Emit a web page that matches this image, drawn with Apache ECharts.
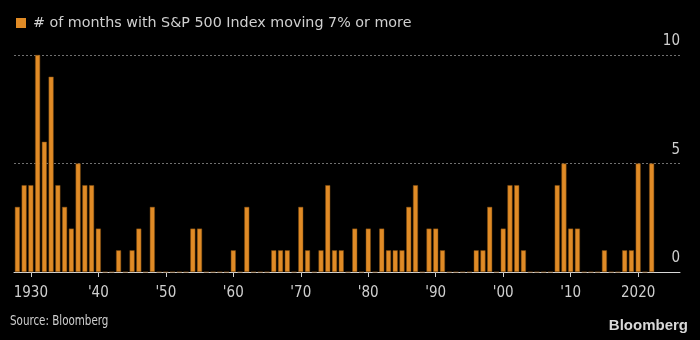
<!DOCTYPE html>
<html>
<head>
<meta charset="utf-8">
<script src="https://cdn.jsdelivr.net/npm/echarts@6/dist/echarts.min.js"></script>
<style>
html,body{margin:0;padding:0;background:#000;}
#c{width:700px;height:340px;}
</style>
</head>
<body>
<div id="c"></div>
<script>
const years = [1928,1929,1930,1931,1932,1933,1934,1935,1936,1937,1938,1939,
1940,1941,1942,1943,1944,1945,1946,1947,1948,1949,
1950,1951,1952,1953,1954,1955,1956,1957,1958,1959,
1960,1961,1962,1963,1964,1965,1966,1967,1968,1969,
1970,1971,1972,1973,1974,1975,1976,1977,1978,1979,
1980,1981,1982,1983,1984,1985,1986,1987,1988,1989,
1990,1991,1992,1993,1994,1995,1996,1997,1998,1999,
2000,2001,2002,2003,2004,2005,2006,2007,2008,2009,
2010,2011,2012,2013,2014,2015,2016,2017,2018,2019,
2020,2021,2022];
const months = [3,4,4,10,6,9,4,3,2,5,4,4,
2,0,0,1,0,1,2,0,3,0,
0,0,0,0,2,2,0,0,0,0,
1,0,3,0,0,0,1,1,1,0,
3,1,0,1,4,1,1,0,2,0,
2,0,2,1,1,1,3,4,0,2,
2,1,0,0,0,0,1,1,3,0,
2,4,4,1,0,0,0,0,4,5,
2,2,0,0,0,1,0,0,1,1,
5,0,5];
const xTickValues = [1930,1940,1950,1960,1970,1980,1990,2000,2010,2020];
const xTickLabels = ['1930',"'40","'50","'60","'70","'80","'90","'00","'10",'2020'];
const seriesName = '# of months with S&P 500 Index moving 7% or more';

const chart = echarts.init(document.getElementById('c'));
const tickFont = '"DejaVu Sans Condensed", "DejaVu Sans", sans-serif';
chart.setOption({
  backgroundColor: '#000',
  animation: false,
  legend: {
    left: 11, top: 11,
    icon: 'rect', itemWidth: 10, itemHeight: 10, itemGap: 8,
    itemStyle: { borderWidth: 0, color: '#E08B26' },
    textStyle: { color: '#d0d0d0', fontSize: 14.3, fontFamily: '"DejaVu Sans", sans-serif', padding: [0,0,0,2] },
    data: [seriesName]
  },
  grid: { left: 14, right: 20, top: 55, bottom: 68, containLabel: false },
  xAxis: {
    type: 'value', min: 1927.5, max: 2026.2,
    splitLine: { show: false },
    axisLine: { show: true, onZero: false, lineStyle: { color: '#d8d8d8', width: 1 } },
    axisTick: { show: true, length: 5, lineStyle: { color: '#cfcfcf' }, customValues: xTickValues },
    axisLabel: {
      color: '#cfcfcf', fontSize: 15, fontFamily: tickFont, margin: 14,
      customValues: xTickValues,
      formatter: function (v) { const i = xTickValues.indexOf(Math.round(v)); return i >= 0 ? xTickLabels[i] : ''; }
    }
  },
  yAxis: {
    type: 'value', position: 'right', min: 0, max: 10, interval: 5,
    axisLine: { show: false }, axisTick: { show: false },
    splitLine: { show: true, lineStyle: { color: '#707070', type: [2, 2], width: 1 } },
    axisLabel: {
      inside: true, margin: 0, color: '#cfcfcf', fontSize: 15, fontFamily: tickFont,
      verticalAlign: 'bottom', padding: [0, 0, 6, 0]
    }
  },
  series: [{
    name: seriesName, type: 'bar', barWidth: 5,
    itemStyle: { color: '#E08B26', borderColor: '#7a4a12', borderWidth: 0.5 },
    data: years.map((y, i) => [y, months[i]])
  }],
  graphic: [
    { type: 'text', left: 10, top: 314, scaleX: 0.82, style: { text: 'Source: Bloomberg', fill: '#cfcfcf', font: '14px "DejaVu Sans Condensed", "DejaVu Sans", sans-serif' } },
    { type: 'text', right: 12, top: 318, style: { text: 'Bloomberg', fill: '#d8d8d8', font: 'bold 15px "Liberation Sans", Arial, sans-serif' } }
  ]
});
</script>
</body>
</html>
